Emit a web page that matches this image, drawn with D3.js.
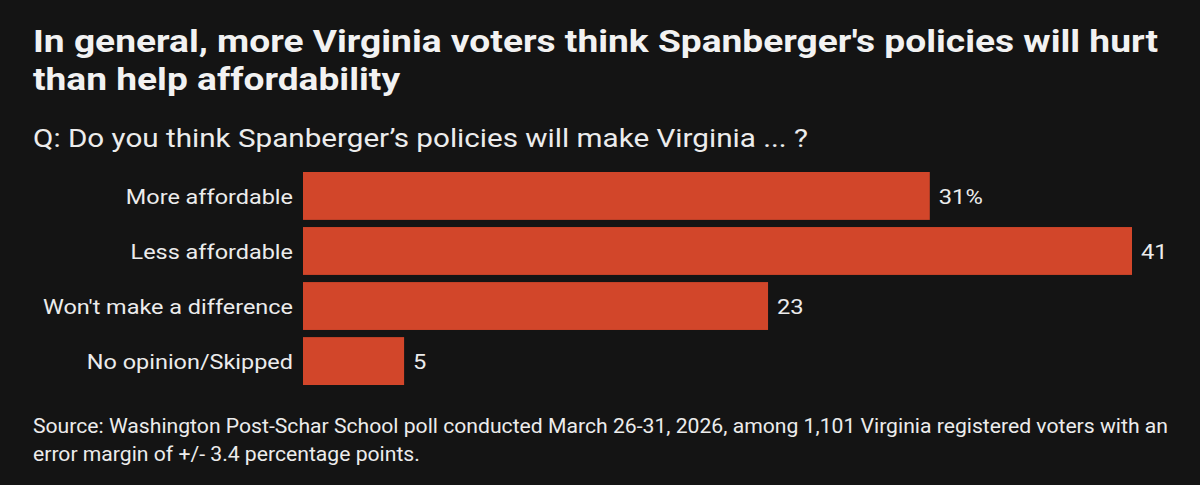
<!DOCTYPE html>
<html lang="en">
<head>
<meta charset="utf-8">
<script src="https://d3js.org/d3.v7.min.js"></script>
<style>
    body { margin: 0; background-color: #141414; }
    svg text { font-family: Roboto, "Liberation Sans", sans-serif; }
</style>
</head>
<body>
<svg id="main" width="1200" height="485"></svg>
<script>
    const categories = ['More affordable', 'Less affordable', "Won't make a difference", 'No opinion/Skipped'];
    const values = [31, 41, 23, 5];
    const valueLabels = ['31%', '41', '23', '5'];

    const titleLines = [
        "In general, more Virginia voters think Spanberger's policies will hurt",
        "than help affordability"
    ];
    const subtitle = "Q: Do you think Spanberger\u2019s policies will make Virginia ... ?";
    const sourceLines = [
        "Source: Washington Post-Schar School poll conducted March 26-31, 2026, among 1,101 Virginia registered voters with an",
        "error margin of +/- 3.4 percentage points."
    ];

    const svg = d3.select('svg#main');
    const textColor = '#ececec';
    const barColor = '#d2462a';

    // narrow a group of texts by the ratio that makes one of them span the target width
    function squeeze(sel, refIndex, target) {
        let k = target / sel.nodes()[refIndex].getComputedTextLength();
        sel.each(function () {
            let w = this.getComputedTextLength();
            d3.select(this)
                .attr('textLength', w * k)
                .attr('lengthAdjust', 'spacingAndGlyphs');
        });
    }

    let x = d3.scaleLinear()
        .domain([0, d3.max(values)])
        .range([303, 1132]);

    let y = d3.scaleBand()
        .domain(categories)
        .range([172, 385])
        .paddingInner(0.13);

    // title
    let title = svg.selectAll('.title').data(titleLines)
        .enter().append('text')
        .attr('class', 'title')
        .attr('x', 33)
        .attr('y', (d, i) => 52 + i * 38)
        .attr('fill', '#f2f2f2')
        .attr('font-weight', 'bold')
        .attr('font-size', 31)
        .text(d => d);
    squeeze(title, 0, 1125);

    let sub = svg.append('text')
        .attr('x', 33)
        .attr('y', 147)
        .attr('fill', textColor)
        .attr('font-size', 26.5)
        .text(subtitle);
    squeeze(sub, 0, 775);

    // bars
    svg.selectAll('.bar').data(values)
        .enter().append('rect')
        .attr('class', 'bar')
        .attr('x', x(0))
        .attr('y', (d, i) => y(categories[i]))
        .attr('width', d => x(d) - x(0))
        .attr('height', y.bandwidth())
        .attr('fill', barColor);

    let labels = svg.selectAll('.cat').data(categories)
        .enter().append('text')
        .attr('class', 'cat')
        .attr('x', x(0) - 10)
        .attr('y', d => y(d) + y.bandwidth() / 2)
        .attr('dy', '0.36em')
        .attr('text-anchor', 'end')
        .attr('fill', textColor)
        .attr('font-size', 21)
        .text(d => d);
    squeeze(labels, 2, 250);

    let vals = svg.selectAll('.val').data(values)
        .enter().append('text')
        .attr('class', 'val')
        .attr('x', d => x(d) + 9)
        .attr('y', (d, i) => y(categories[i]) + y.bandwidth() / 2)
        .attr('dy', '0.36em')
        .attr('fill', textColor)
        .attr('font-size', 21)
        .text((d, i) => valueLabels[i]);
    squeeze(vals, 0, 44);

    // source
    let src = svg.selectAll('.src').data(sourceLines)
        .enter().append('text')
        .attr('class', 'src')
        .attr('x', 33)
        .attr('y', (d, i) => 433 + i * 28)
        .attr('fill', textColor)
        .attr('font-size', 19.5)
        .text(d => d);
    squeeze(src, 0, 1135);
</script>
</body>
</html>
